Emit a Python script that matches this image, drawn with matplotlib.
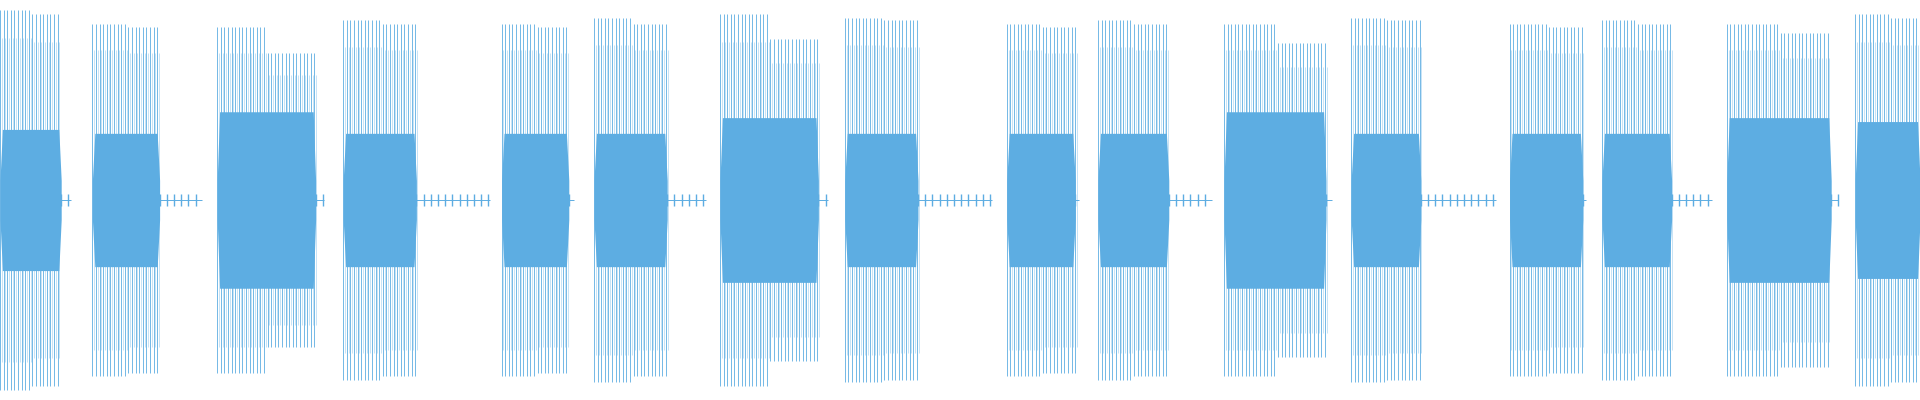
import numpy as np
import matplotlib
matplotlib.use("Agg")
import matplotlib.pyplot as plt

# segment data (seconds), amplitudes normalised to 1
seg_start = [0.00, 0.77, 1.81, 2.86, 4.18, 4.95, 6.00, 7.04, 8.39, 9.15, 10.20, 11.26, 12.58, 13.35, 14.39, 15.46]
seg_end   = [0.51, 1.33, 2.63, 3.47, 4.74, 5.56, 6.82, 7.65, 8.96, 9.74, 11.05, 11.84, 13.19, 13.93, 15.26, 16.00]
tail_end  = [0.59, 1.68, 2.70, 4.08, 4.78, 5.88, 6.90, 8.27, 8.99, 10.10, 11.10, 12.47, 13.22, 14.27, 15.32, 16.00]
peak_left = [0.97, 0.90, 0.88, 0.92, 0.90, 0.93, 0.95, 0.93, 0.90, 0.92, 0.90, 0.93, 0.90, 0.92, 0.90, 0.95]
peak_right= [0.95, 0.88, 0.75, 0.90, 0.88, 0.90, 0.82, 0.92, 0.88, 0.90, 0.80, 0.92, 0.88, 0.90, 0.85, 0.93]
core_amp  = [0.36, 0.34, 0.45, 0.34, 0.34, 0.34, 0.42, 0.34, 0.34, 0.34, 0.45, 0.34, 0.34, 0.34, 0.42, 0.40]
tail_amp  = [0.03, 0.03, 0.03, 0.03, 0.03, 0.03, 0.03, 0.03, 0.03, 0.03, 0.03, 0.03, 0.03, 0.03, 0.03, 0.03]

color = "#5DADE2"
fig = plt.figure(figsize=(19.2, 4), dpi=100)
ax = fig.add_axes([0, 0, 1, 1])
ax.set_xlim(0, 16)
ax.set_ylim(-1.02, 1.02)
ax.axis("off")

step = 0.03
for s, e, t, pl, pr, c, ta in zip(seg_start, seg_end, tail_end, peak_left, peak_right, core_amp, tail_amp):
    ax.fill_between([s, s + 0.02, e - 0.02, e], [-0.1, -c, -c, -0.1], [0.1, c, c, 0.1], color=color, lw=0)
    xs = np.arange(s, e, step)
    mid = (s + e) / 2
    h = np.where(xs < mid, pl, pr)
    ax.vlines(xs, -h, h, color=color, lw=0.6)
    ax.vlines(xs + step / 2, -h * 0.85, h * 0.85, color=color, lw=0.4, alpha=0.6)
    if t > e:
        ax.hlines(0, e, t, color=color, lw=0.7)
        xt = np.arange(e, t, 0.06)
        ax.vlines(xt, -ta, ta, color=color, lw=1.0)

fig.savefig("out.png", dpi=100)
